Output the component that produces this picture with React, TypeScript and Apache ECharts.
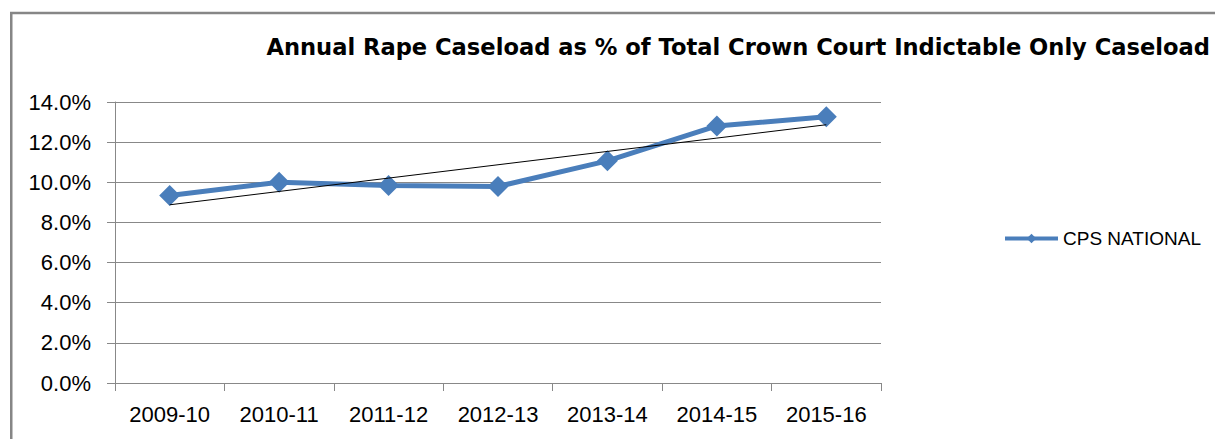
import React, { useEffect, useRef } from "react";
import * as echarts from "echarts";

const categories = ["2009-10", "2010-11", "2011-12", "2012-13", "2013-14", "2014-15", "2015-16"];
const cpsNational = [9.34, 10.0, 9.84, 9.79, 11.07, 12.81, 13.26];
const yTicks = { min: 0, max: 14, interval: 2 };
const titleText = "Annual Rape Caseload as % of Total Crown Court Indictable Only Caseload";
const seriesName = "CPS NATIONAL";

// Least-squares linear trendline (Excel "Linear" trendline) derived from the series
function linearTrend(values: number[]): number[] {
  const n = values.length;
  const xs = values.map((_, i) => i + 1);
  const mx = xs.reduce((a, b) => a + b, 0) / n;
  const my = values.reduce((a, b) => a + b, 0) / n;
  let sxy = 0;
  let sxx = 0;
  for (let i = 0; i < n; i++) {
    sxy += (xs[i] - mx) * (values[i] - my);
    sxx += (xs[i] - mx) * (xs[i] - mx);
  }
  const slope = sxy / sxx;
  const intercept = my - slope * mx;
  return xs.map((x) => +(intercept + slope * x).toFixed(4));
}

export default function App() {
  const ref = useRef<HTMLDivElement>(null);
  useEffect(() => {
    if (!ref.current) return;
    const chart = echarts.init(ref.current, null, { renderer: "svg" });
    const trend = linearTrend(cpsNational);
    const gray = "#888888";
    chart.setOption({
      animation: false,
      backgroundColor: "#ffffff",
      textStyle: { fontFamily: "Liberation Sans" },
      title: {
        text: titleText,
        right: 5,
        top: 35,
        padding: 0,
        textStyle: { fontFamily: "DejaVu Sans", fontWeight: "bold", fontSize: 22.6, color: "#000000" },
      },
      legend: {
        data: [seriesName],
        left: 1003,
        top: 229,
        padding: 0,
        itemWidth: 53,
        itemHeight: 12,
        lineStyle: { width: 4 },
        textStyle: { fontFamily: "Liberation Sans", fontSize: 19, color: "#000000" },
      },
      grid: { left: 115, right: 334, top: 102, bottom: 56, containLabel: false },
      xAxis: {
        type: "category",
        data: categories,
        boundaryGap: true,
        axisLine: { show: true, lineStyle: { color: gray, width: 1 } },
        axisTick: { show: true, length: 8, lineStyle: { color: gray } },
        axisLabel: { fontFamily: "Liberation Sans", fontSize: 22, color: "#000000", margin: 20 },
        splitLine: { show: false },
      },
      yAxis: {
        type: "value",
        min: yTicks.min,
        max: yTicks.max,
        interval: yTicks.interval,
        axisLine: { show: true, lineStyle: { color: gray, width: 1 } },
        axisTick: { show: true, length: 8, lineStyle: { color: gray } },
        axisLabel: {
          fontFamily: "Liberation Sans",
          fontSize: 22,
          color: "#000000",
          margin: 24,
          formatter: (v: number) => v.toFixed(1) + "%",
        },
        splitLine: { show: true, lineStyle: { color: gray, width: 1 } },
      },
      graphic: [
        {
          type: "rect",
          shape: { x: 11.25, y: 13, width: 1400, height: 600 },
          style: { fill: "none", stroke: "#868686", lineWidth: 2.5 },
          silent: true,
        },
      ],
      series: [
        {
          name: seriesName,
          type: "line",
          data: cpsNational,
          symbol: "diamond",
          symbolSize: [21, 21],
          lineStyle: { color: "#4A7EBB", width: 5 },
          itemStyle: { color: "#4A7EBB" },
          z: 2,
        },
        {
          name: "Linear (CPS NATIONAL)",
          type: "line",
          data: trend,
          symbol: "none",
          lineStyle: { color: "#000000", width: 1 },
          itemStyle: { color: "#000000" },
          z: 3,
        },
      ],
    });
    return () => chart.dispose();
  }, []);
  return (
    <div
      ref={ref}
      style={{ position: "fixed", left: 0, top: 0, width: 1215, height: 439 }}
    />
  );
}
